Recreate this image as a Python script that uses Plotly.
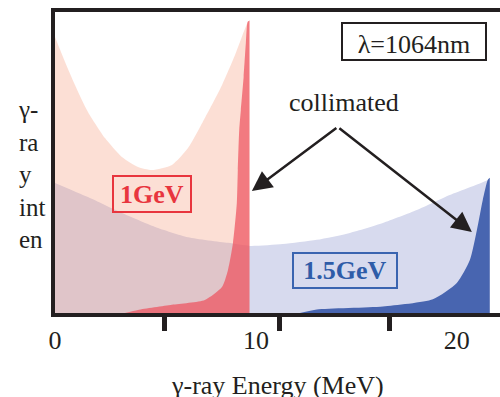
import plotly.graph_objects as go

# Spectra: photon energy (MeV) vs. relative intensity (arb. units)
e_1gev_all = [0.0, 0.50, 1.00, 1.64, 2.49, 3.33, 4.13, 4.83, 5.82, 6.62, 7.46, 8.31, 8.96, 9.60, 9.68]
i_1gev_all = [91.7, 83.4, 75.7, 66.8, 58.1, 51.8, 48.5, 47.5, 49.2, 54.8, 64.8, 75.7, 85.7, 96.7, 97.2]

e_1gev_col = [3.48, 4.13, 5.82, 7.46, 8.31, 8.61, 8.86, 9.05, 9.10, 9.17, 9.25, 9.39, 9.50, 9.59, 9.68]
i_1gev_col = [0.0, 1.0, 2.7, 4.3, 8.6, 14.3, 23.3, 36.5, 47.5, 60.8, 67.4, 78.5, 89.7, 96.8, 97.2]

e_15gev_all = [0.0, 1.64, 3.33, 4.98, 6.62, 8.61, 9.70, 11.34, 13.03, 14.68, 16.32, 18.01, 19.65, 21.54, 21.64]
i_15gev_all = [43.2, 38.5, 33.2, 28.6, 25.2, 23.3, 22.3, 22.9, 24.3, 26.6, 29.9, 34.2, 39.2, 44.2, 44.9]

e_15gev_col = [12.19, 13.03, 16.32, 18.81, 20.0, 20.65, 21.0, 21.29, 21.54, 21.64]
i_15gev_col = [0.0, 1.2, 2.2, 4.6, 10.0, 17.6, 27.6, 37.5, 44.2, 44.9]

tick_label_vals = [0, 10, 20]
tick_label_text = ["0", "10", "20"]
tick_mark_vals = [0, 5.47, 11.19, 16.67]

INK = "#231f20"
SERIF = "Liberation Serif, Times New Roman, serif"

fig = go.Figure()

def area(x, y, color, shape="spline"):
    fig.add_trace(go.Scatter(
        x=x, y=y, mode="lines", fill="tozeroy", fillcolor=color,
        line=dict(width=0, shape=shape, smoothing=0.6), hoverinfo="skip",
    ))

area(e_15gev_all, i_15gev_all, "#d7daee")
area(e_1gev_all, i_1gev_all, "rgba(245,148,115,0.30)")
area(e_1gev_col, i_1gev_col, "rgba(238,79,91,0.70)")
area(e_15gev_col, i_15gev_col, "#4865b0")

# Energy labels in boxes
fig.add_annotation(x=4.83, y=39.5, text="<b>1GeV</b>", showarrow=False,
                   font=dict(family=SERIF, size=26, color="#e8353e"),
                   bordercolor="#e8353e", borderwidth=2, borderpad=0,
                   width=76, height=34)
fig.add_annotation(x=14.43, y=14.1, text="<b>1.5GeV</b>", showarrow=False,
                   font=dict(family=SERIF, size=26, color="#2f5ca8"),
                   bordercolor="#3a64b0", borderwidth=2, borderpad=0,
                   width=102, height=33)
fig.add_annotation(x=17.86, y=90.2, text="λ=1064nm", showarrow=False,
                   font=dict(family=SERIF, size=26, color=INK),
                   bordercolor=INK, borderwidth=2, borderpad=0,
                   width=142, height=35, valign="bottom")

# "collimated" callout with two arrows
fig.add_annotation(x=14.38, y=69.8, text="collimated", showarrow=False,
                   font=dict(family=SERIF, size=26, color=INK))
for tip_x, tip_y in [(9.80, 40.5), (20.75, 26.9)]:
    fig.add_annotation(x=tip_x, y=tip_y, ax=14.08, ay=61.8, axref="x", ayref="y",
                       text="", showarrow=True, arrowhead=2, arrowsize=1.6,
                       arrowwidth=2.5, arrowcolor=INK)

# Vertical stacked y-axis title
fig.add_annotation(xref="paper", yref="paper", x=-0.088, y=0.46,
                   xanchor="left", yanchor="middle", align="left",
                   text="γ-<br>ra<br>y<br>int<br>en", showarrow=False,
                   font=dict(family=SERIF, size=25, color=INK))

# x-axis title (sits low, partly below the page edge)
fig.add_annotation(xref="paper", yref="paper", x=0.5, y=-0.24,
                   xanchor="center", yanchor="middle",
                   text="γ-ray Energy (MeV)", showarrow=False,
                   font=dict(family=SERIF, size=26, color=INK))

fig.update_layout(
    width=500, height=397,
    margin=dict(l=55, r=0, t=12, b=84),
    paper_bgcolor="white", plot_bgcolor="white",
    showlegend=False,
    xaxis=dict(
        range=[0, 22.15], showline=True, linewidth=4, linecolor=INK, mirror=True,
        showgrid=False, zeroline=False,
        tickmode="array", tickvals=tick_label_vals, ticktext=tick_label_text,
        ticks="inside", ticklen=0, ticklabelstandoff=1,
        tickfont=dict(family=SERIF, size=26, color=INK),
        minor=dict(tickmode="array", tickvals=tick_mark_vals, ticks="outside",
                   ticklen=14, tickwidth=5, tickcolor=INK, showgrid=False),
    ),
    yaxis=dict(
        range=[0, 100], showline=True, linewidth=4, linecolor=INK, mirror=False,
        showgrid=False, zeroline=False, showticklabels=False, ticks="",
    ),
)

fig.write_html("out.html")
